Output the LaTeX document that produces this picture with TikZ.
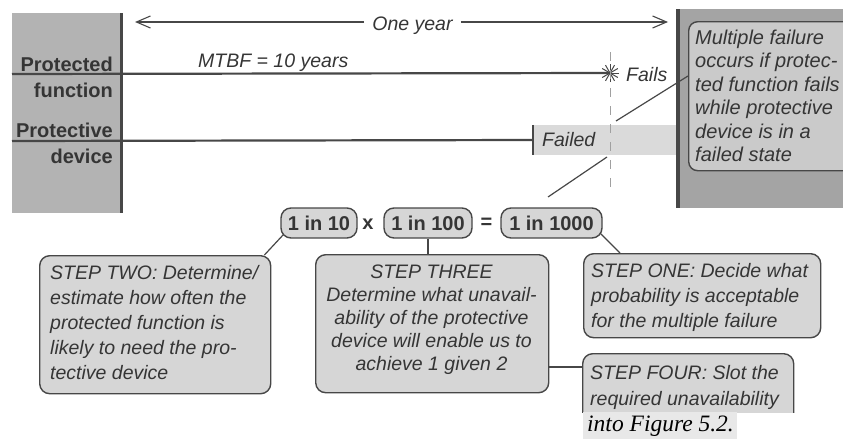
\documentclass[tikz,border=0pt]{standalone}
\usepackage{fontspec}
\setmainfont{Liberation Sans}
\newfontfamily\tserif{Liberation Serif}
\usetikzlibrary{arrows.meta,calc}
\definecolor{ink}{HTML}{353535}
\definecolor{edge}{HTML}{474747}
\definecolor{leftfill}{HTML}{B3B3B3}
\definecolor{rightfill}{HTML}{A4A4A4}
\definecolor{innerfill}{HTML}{CACACA}
\definecolor{boxfill}{HTML}{D6D6D6}
\definecolor{barfill}{HTML}{DADADA}
\definecolor{figfill}{HTML}{E8E8E8}
\definecolor{dashgray}{HTML}{A0A0A0}
\begin{document}
\begin{tikzpicture}[x=1pt,y=-1pt,
  every node/.style={text=ink},
  lab/.style={font=\fontsize{19.5}{23.5}\selectfont\itshape, inner sep=0pt},
  sidelab/.style={font=\fontsize{20}{24}\selectfont\bfseries, inner sep=0pt, anchor=base east},
  plainbox/.style={inner sep=0pt, anchor=north west},
  stepbox/.style={draw=edge, line width=1.4pt, fill=boxfill, rounded corners=10pt, inner sep=0pt, anchor=north west},
  ratio/.style={draw=edge, line width=1.4pt, fill=boxfill, rounded corners=10pt, minimum height=30pt, inner sep=0pt, font=\fontsize{20}{24}\selectfont\bfseries},
  opsym/.style={inner sep=0pt, font=\fontsize{20}{24}\selectfont\bfseries},
  steptext/.style={font=\fontsize{19.5}{25}\selectfont\itshape, inner sep=0pt},
  conn/.style={draw=edge, line width=1.2pt},
  timeline/.style={draw=edge, line width=2.2pt},
  span/.style={draw=edge, line width=1.1pt, -{Straight Barb[length=14pt,width=12pt,line width=1.1pt]}},
]
\useasboundingbox (0,0) rectangle (843,439);

% left panel
\node[plainbox, fill=leftfill, minimum width=109pt, minimum height=200pt] (lbox) at (12,13) {};
\draw[edge, line width=3.5pt] (lbox.north east) -- (lbox.south east);
\node[sidelab] (pt1) at (113,71) {Protected};
\node[sidelab] (pt2) at (113,97) {function};
\node[sidelab] (pd1) at (113,137) {Protective};
\node[sidelab] (pd2) at (113,163) {device};

% right panel
\node[plainbox, fill=rightfill, minimum width=170pt, minimum height=199pt] (rbox) at (676,9) {};
\draw[edge, line width=4pt] ([xshift=2pt]rbox.north west) -- ([xshift=2pt]rbox.south west);
\node[plainbox, draw=edge, line width=1.4pt, fill=innerfill, rounded corners=9pt, minimum width=175pt, minimum height=149pt] (mf) at (688,21) {};
\node[lab, anchor=west, align=left, font=\fontsize{20}{23.5}\selectfont\itshape] (mft) at (695,96) {Multiple failure\\occurs if protec-\\ted function fails\\while protective\\device is in a\\failed state};

% one year span
\node[lab, anchor=base, inner xsep=8pt] (oy) at (412.5,30) {One year};
\coordinate (aL) at (135,22);
\coordinate (aR) at (668,22);
\draw[span] (oy.west |- 0,22) -- (aL);
\draw[span] (oy.east |- 0,22) -- (aR);

% protected function line
\coordinate (pfs) at (12,74);
\node[inner sep=0pt, minimum size=18pt] (star) at (610,73) {};
\draw[timeline] (pfs) -- (star.center);
\foreach \a in {0,30,60,90,120,150}
  \draw[edge, line width=1pt] (star.center) ++(\a:9) -- ++(\a+180:18);
\node[lab, anchor=base west] (mtbf) at (198,67) {MTBF = 10 years};
\node[lab, anchor=west] (fails) at (626,75) {Fails};

% protective device line
\coordinate (pds) at (12,141);
\node[inner sep=0pt, anchor=west, fill=barfill, minimum width=143pt, minimum height=30pt] (bar) at (533,140) {};
\draw[timeline] (pds) -- (bar.west);
\draw[edge, line width=2.6pt] (bar.north west) -- (bar.south west);
\node[lab, anchor=west] (failed) at (542,140) {Failed};

% dashed time marker
\coordinate (dt) at (610,52);
\coordinate (db) at (610,194);
\draw[dashgray, line width=1pt, dash pattern=on 9pt off 9pt] (dt) -- (db);

% leaders to the failure instant
\coordinate (la) at (616,121);
\draw[conn] (mf.west |- 0,76) -- (la);
\coordinate (lb1) at (607,157);
\coordinate (lb2) at (548,197);
\draw[conn] (lb1) -- (lb2);

% ratios
\node[ratio, minimum width=76pt] (r10) at (319,223) {1 in 10};
\node[opsym] (times) at (368,224) {x};
\node[ratio, minimum width=88pt] (r100) at (428,223) {1 in 100};
\node[opsym] (eq) at (486.5,223) {=};
\node[ratio, minimum width=101pt] (r1000) at (551.5,223) {1 in 1000};

% step boxes
\node[stepbox, minimum width=231pt, minimum height=138pt] (s2) at (39,255) {};
\node[steptext, anchor=west, align=left] (s2t) at (50,323) {STEP TWO: Determine/\\estimate how often the\\protected function is\\likely to need the pro-\\tective device};

\node[stepbox, minimum width=233pt, minimum height=138pt] (s3) at (315,254) {};
\node[steptext, align=center, font=\fontsize{19.5}{23}\selectfont\itshape] (s3t) at (431.5,320) {STEP THREE\\Determine what unavail-\\ability of the protective\\device will enable us to\\achieve 1 given 2};

\node[stepbox, minimum width=237pt, minimum height=84pt] (s1) at (583,253) {};
\node[steptext, anchor=west, align=left] (s1t) at (591,297) {STEP ONE: Decide what\\probability is acceptable\\for the multiple failure};

\begin{scope}
  \clip (0,0) rectangle (843,412);
  \node[stepbox, minimum width=211pt, minimum height=95pt] (s4) at (582,353) {};
  \node[steptext, anchor=north west, align=left, font=\fontsize{19.5}{26}\selectfont\itshape] (s4t) at (590,365) {STEP FOUR: Slot the\\required unavailability};
\end{scope}

\node[plainbox, fill=figfill, minimum width=154pt, minimum height=27pt] (fig) at (583,412) {};
\node[inner sep=0pt, anchor=base west, text=black, font=\tserif\fontsize{23.5}{26}\selectfont\itshape] (figt) at (587,431) {into Figure 5.2.};

% connectors
\draw[conn] ($(r10.south west)+(3,-4)$) -- ($(s2.north east)+(-7,0)$);
\draw[conn] (r100.south) -- (r100.south |- s3.north);
\draw[conn] ($(r1000.south east)+(-2,-5)$) -- ($(s1.north west)+(37,0)$);
\draw[conn] (s3.east |- 0,367) -- (s4.west |- 0,367);
\end{tikzpicture}
\end{document}
